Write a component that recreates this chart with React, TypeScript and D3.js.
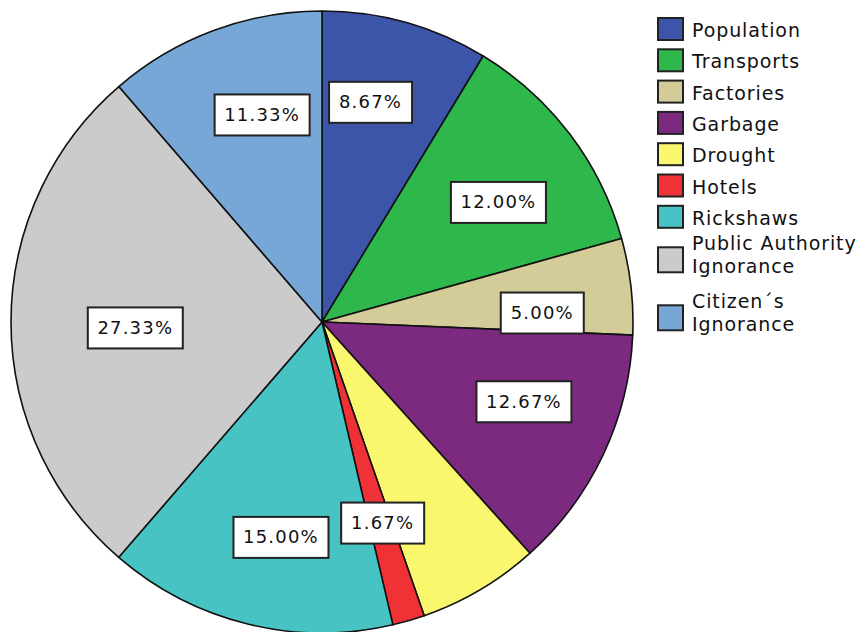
import React from "react";
import * as d3 from "d3";

const categories = [
  "Population",
  "Transports",
  "Factories",
  "Garbage",
  "Drought",
  "Hotels",
  "Rickshaws",
  "Public Authority Ignorance",
  "Citizen\u00b4s Ignorance",
];
const values = [8.67, 12.0, 5.0, 12.67, 6.33, 1.67, 15.0, 27.33, 11.33];
const showLabel = [true, true, true, true, false, true, true, true, true];
const legendLines = [
  ["Population"],
  ["Transports"],
  ["Factories"],
  ["Garbage"],
  ["Drought"],
  ["Hotels"],
  ["Rickshaws"],
  ["Public Authority", "Ignorance"],
  ["Citizen\u00b4s", "Ignorance"],
];
const colors = [
  "#3d55a8",
  "#2eb84c",
  "#d3cc98",
  "#7b2a80",
  "#faf76e",
  "#f03236",
  "#47c3c4",
  "#cbcbcb",
  "#77a7d6",
];

// label fine-tuning (layout only), in px relative to centroid
const labelNudge: Record<string, [number, number]> = {
  Population: [-10, -10],
  Transports: [3, 12],
  Factories: [4, 16],
  Garbage: [5, -13],
  Hotels: [0, -8],
  Rickshaws: [11, 4],
  "Public Authority Ignorance": [31, 6],
  "Citizen\u00b4s Ignorance": [16, -3],
};

export default function App() {
  const W = 866;
  const H = 632;
  const cx = 322;
  const cy = 322;
  const R = 311;
  const font = "'DejaVu Sans', sans-serif";

  const pie = d3
    .pie<number>()
    .sort(null)
    .startAngle(0)
    .endAngle(2 * Math.PI)
    .value((d) => d);
  const arcs = pie(values);
  const arc = d3.arc<d3.PieArcDatum<number>>().innerRadius(0).outerRadius(R);
  const labelArc = d3
    .arc<d3.PieArcDatum<number>>()
    .innerRadius(R * 0.7)
    .outerRadius(R * 0.7);

  const legendX = 658;
  let yc = 29;
  const legendItems = legendLines.map((lines, i) => {
    if (i > 0) {
      const prevMulti = legendLines[i - 1].length > 1;
      const curMulti = lines.length > 1;
      yc += curMulti ? (prevMulti ? 58 : 43) : 31.3;
    }
    return { i, lines, yc, h: lines.length === 1 ? 22 : 25 };
  });

  return (
    <svg
      width={W}
      height={H}
      style={{ position: "absolute", left: 0, top: 0 }}
    >
      <rect x={0} y={0} width={W} height={H} fill="#fff" />
      <g transform={`translate(${cx},${cy})`}>
        {arcs.map((a, i) => (
          <path
            key={i}
            d={arc(a) || ""}
            fill={colors[i]}
            stroke="#111"
            strokeWidth={1.6}
            strokeLinejoin="round"
          />
        ))}
        {arcs.map((a, i) => {
          if (!showLabel[i]) return null;
          const [x0, y0] = labelArc.centroid(a);
          const n = labelNudge[categories[i]] || [0, 0];
          const x = x0 + n[0];
          const y = y0 + n[1];
          const txt = values[i].toFixed(2) + "%";
          const w = txt.length >= 6 ? 95 : 83;
          const h = 41;
          return (
            <g key={"l" + i} transform={`translate(${x},${y})`}>
              <rect
                x={-w / 2}
                y={-h / 2}
                width={w}
                height={h}
                fill="#fff"
                stroke="#222"
                strokeWidth={2}
              />
              <text
                x={0}
                y={1}
                textAnchor="middle"
                dominantBaseline="middle"
                fontFamily={font}
                fontSize={18}
                letterSpacing={1.2}
                fill="#111"
              >
                {txt}
              </text>
            </g>
          );
        })}
      </g>
      {legendItems.map(({ i, lines, yc, h }) => (
        <g key={"lg" + i}>
          <rect
            x={legendX}
            y={yc - h / 2}
            width={25}
            height={h}
            fill={colors[i]}
            stroke="#222"
            strokeWidth={2}
          />
          {lines.map((t, k) => (
            <text
              key={k}
              x={legendX + 34}
              y={lines.length === 1 ? yc + 8 : yc + 1 + (k - 0.5) * 23 + 1}
              fontFamily={font}
              fontSize={19}
              letterSpacing={0.9}
              fill="#111"
            >
              {t}
            </text>
          ))}
        </g>
      ))}
    </svg>
  );
}
